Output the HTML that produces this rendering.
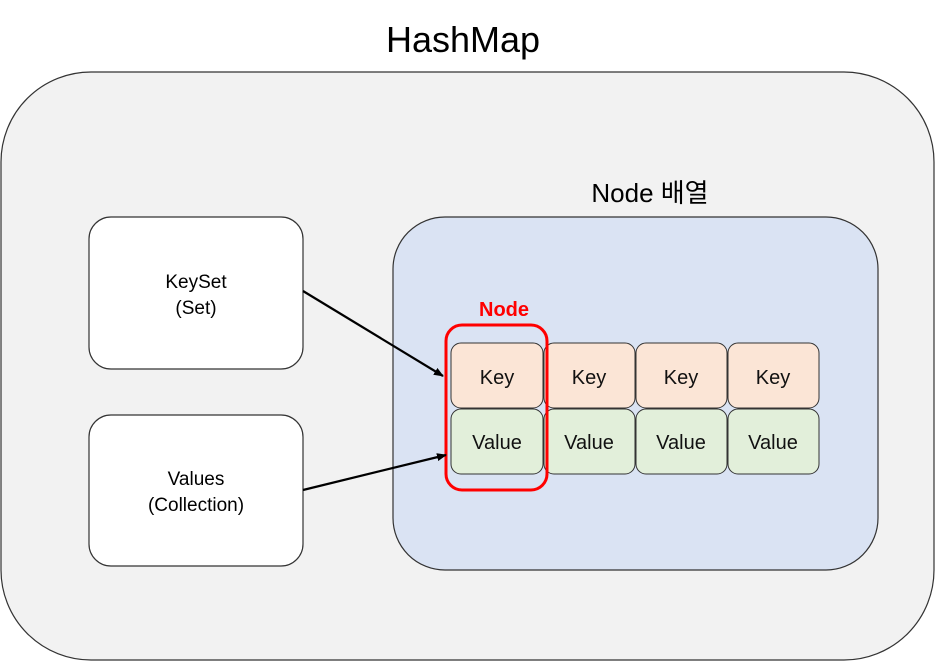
<!DOCTYPE html>
<html><head><meta charset="utf-8"><style>
body{margin:0;width:936px;height:662px;background:#fff;overflow:hidden;font-family:"Liberation Sans","Noto Sans CJK KR",sans-serif;}
</style></head><body>
<svg width="936" height="662" xmlns="http://www.w3.org/2000/svg" font-family="Liberation Sans, Noto Sans CJK KR, sans-serif">
<defs><marker id="a" markerWidth="10" markerHeight="8" refX="9" refY="4" orient="auto" markerUnits="userSpaceOnUse"><path d="M0,0 L10,4 L0,8 Z" fill="#000"/></marker></defs>
<text x="463" y="52" font-size="36" text-anchor="middle" fill="#000">HashMap</text>
<rect x="1" y="72" width="933" height="588" rx="90" fill="#f2f2f2" stroke="#333" stroke-width="1.2"/>
<text x="650" y="202" font-size="26" text-anchor="middle" fill="#000">Node 배열</text>
<rect x="393" y="217" width="485" height="353" rx="52" fill="#dae3f3" stroke="#333" stroke-width="1.2"/>
<rect x="89" y="217" width="214" height="152" rx="22" fill="#fff" stroke="#333" stroke-width="1.2"/>
<text x="196" y="288" font-size="19" text-anchor="middle">KeySet</text>
<text x="196" y="314" font-size="19" text-anchor="middle">(Set)</text>
<rect x="89" y="415" width="214" height="151" rx="22" fill="#fff" stroke="#333" stroke-width="1.2"/>
<text x="196" y="485" font-size="19" text-anchor="middle">Values</text>
<text x="196" y="511" font-size="19" text-anchor="middle">(Collection)</text>
<g stroke="#333" stroke-width="1">
<rect x="451" y="343" width="92" height="65" rx="10" fill="#fbe5d6"/>
<rect x="544" y="343" width="91" height="65" rx="10" fill="#fbe5d6"/>
<rect x="636" y="343" width="91" height="65" rx="10" fill="#fbe5d6"/>
<rect x="728" y="343" width="91" height="65" rx="10" fill="#fbe5d6"/>
<rect x="451" y="409" width="92" height="65" rx="10" fill="#e2efda"/>
<rect x="544" y="409" width="91" height="65" rx="10" fill="#e2efda"/>
<rect x="636" y="409" width="91" height="65" rx="10" fill="#e2efda"/>
<rect x="728" y="409" width="91" height="65" rx="10" fill="#e2efda"/>
</g>
<g font-size="20" text-anchor="middle" fill="#111">
<text x="497" y="384">Key</text><text x="589" y="384">Key</text><text x="681" y="384">Key</text><text x="773" y="384">Key</text>
<text x="497" y="449">Value</text><text x="589" y="449">Value</text><text x="681" y="449">Value</text><text x="773" y="449">Value</text>
</g>
<rect x="446" y="325" width="101" height="165" rx="16" fill="none" stroke="#f00" stroke-width="3"/>
<text x="504" y="316" font-size="20" font-weight="bold" fill="#f00" text-anchor="middle">Node</text>
<line x1="303" y1="291" x2="443" y2="376" stroke="#000" stroke-width="2.2" marker-end="url(#a)"/>
<line x1="303" y1="490" x2="446" y2="455" stroke="#000" stroke-width="2.2" marker-end="url(#a)"/>
</svg>
</body></html>
